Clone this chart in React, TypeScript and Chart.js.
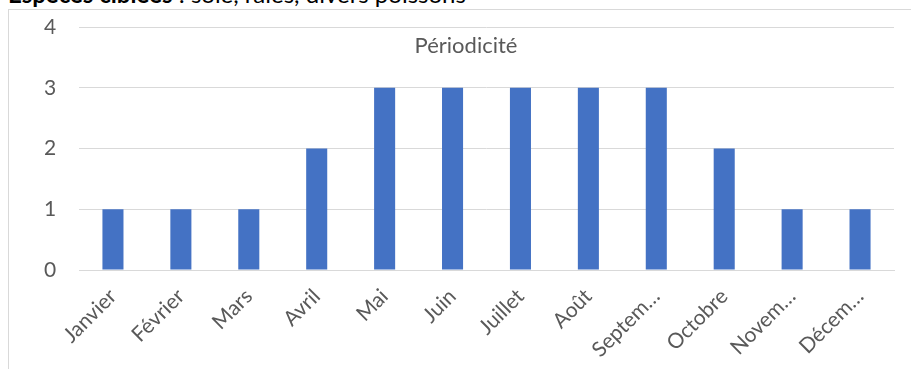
import React, { useEffect, useRef } from "react";
import { Chart, registerables } from "chart.js";

Chart.register(...registerables);

const months = [
  "Janvier", "Février", "Mars", "Avril", "Mai", "Juin",
  "Juillet", "Août", "Septembre", "Octobre", "Novembre", "Décembre",
];
const tickLabels = [
  "Janvier", "Février", "Mars", "Avril", "Mai", "Juin",
  "Juillet", "Août", "Septem…", "Octobre", "Novem…", "Décem…",
];
const periodicite = [1, 1, 1, 2, 3, 3, 3, 3, 3, 2, 1, 1];
const yTicks = [0, 1, 2, 3, 4];
const chartTitle = "Périodicité";

const FONT = "Lato, 'Liberation Sans', sans-serif";

const titlePlugin = {
  id: "insideTitle",
  afterDraw(chart: any) {
    const ctx = chart.ctx;
    ctx.save();
    ctx.font = `22px ${FONT}`;
    ctx.fillStyle = "#595959";
    ctx.textAlign = "center";
    ctx.textBaseline = "middle";
    ctx.fillText(chartTitle, 457, 36);
    ctx.restore();
  },
};

export default function App() {
  const ref = useRef<HTMLCanvasElement | null>(null);

  useEffect(() => {
    if (!ref.current) return;
    const chart = new Chart(ref.current, {
      type: "bar",
      data: {
        labels: months,
        datasets: [
          {
            label: chartTitle,
            data: periodicite,
            backgroundColor: "#4472C4",
            borderWidth: 0,
            barPercentage: 0.31,
            categoryPercentage: 1,
          },
        ],
      },
      options: {
        animation: false,
        responsive: false,
        maintainAspectRatio: false,
        layout: { padding: { left: 35, right: 17, top: 17, bottom: 0 } },
        plugins: {
          legend: { display: false },
          title: { display: false },
          tooltip: { enabled: false },
        },
        scales: {
          x: {
            grid: { display: false },
            border: { display: true, color: "#d9d9d9", width: 1 },
            ticks: {
              color: "#595959",
              font: { family: FONT, size: 21 },
              minRotation: 45,
              maxRotation: 45,
              autoSkip: false,
              padding: 6,
              callback: (v: any) => tickLabels[v as number],
            },
            afterFit: (s: any) => {
              s.height = 100;
            },
          },
          y: {
            min: 0,
            max: 4,
            grid: { color: "#d9d9d9", lineWidth: 1, drawTicks: false },
            border: { display: false },
            afterBuildTicks: (s: any) => {
              s.ticks = yTicks.map((v) => ({ value: v }));
            },
            ticks: {
              color: "#595959",
              font: { family: FONT, size: 21 },
              padding: 0,
              crossAlign: "far",
            },
            afterFit: (s: any) => {
              s.width = 35;
            },
          },
        },
      },
      plugins: [titlePlugin],
    });
    return () => chart.destroy();
  }, []);

  return (
    <div style={{ position: "fixed", inset: 0, overflow: "hidden", background: "#fff" }}>
      <div
        style={{
          position: "absolute",
          left: 8,
          top: -21,
          whiteSpace: "nowrap",
          fontFamily: FONT,
          fontSize: 24,
          lineHeight: "normal",
          color: "#000",
        }}
      >
        <b>Espèces ciblées</b> : sole, raies, divers poissons
      </div>
      <div
        style={{
          position: "absolute",
          left: 8,
          top: 9,
          width: 930,
          height: 420,
          border: "1px solid #d9d9d9",
          boxSizing: "border-box",
          background: "#fff",
        }}
      >
        <canvas ref={ref} width={902} height={360} style={{ display: "block", width: 902, height: 360 }} />
      </div>
    </div>
  );
}
